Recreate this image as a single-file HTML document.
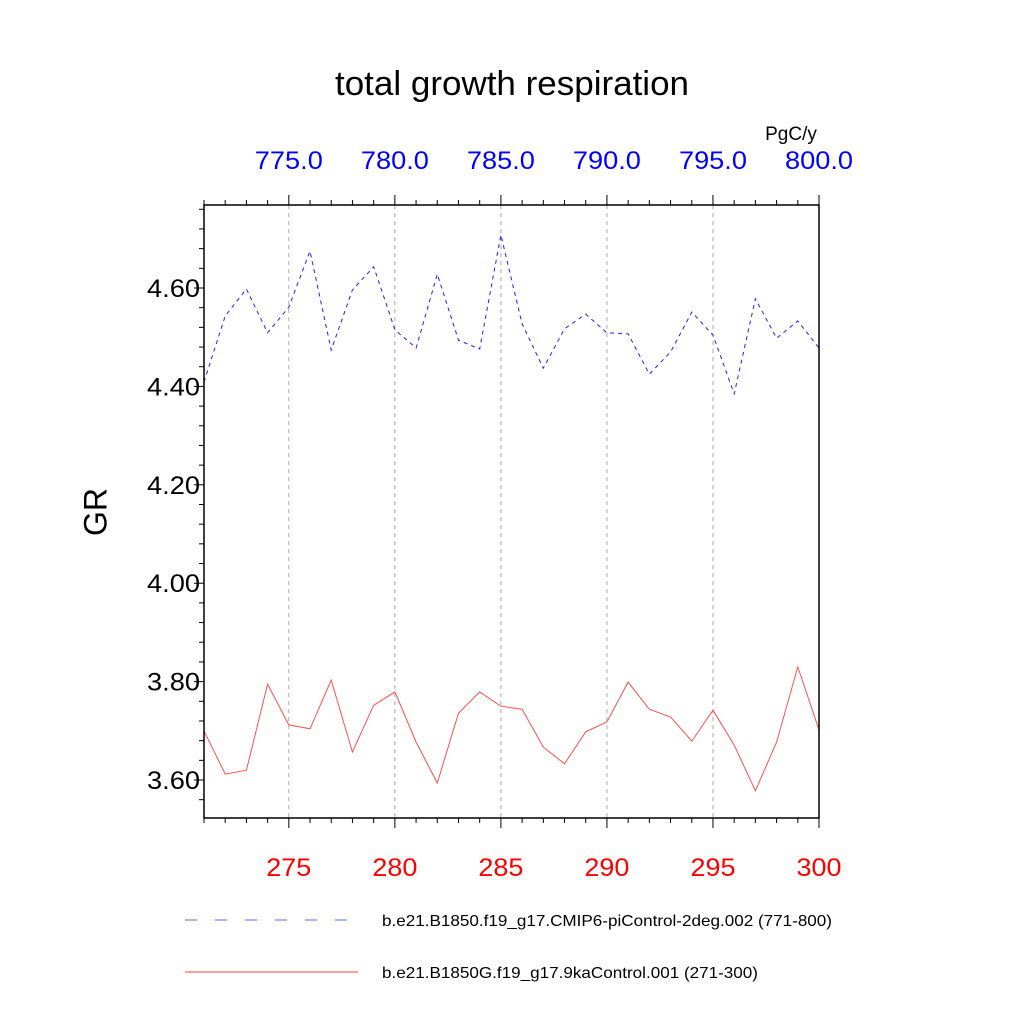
<!DOCTYPE html>
<html><head><meta charset="utf-8"><style>
html,body{margin:0;padding:0;background:#fff;}
svg{display:block;font-family:"Liberation Sans",sans-serif;}
</style></head><body>
<svg id="chart" width="1024" height="1024" viewBox="0 0 1024 1024">
<rect width="1024" height="1024" fill="#fff"/>
<text x="512" y="95" font-size="34" text-anchor="middle" textLength="354" lengthAdjust="spacingAndGlyphs">total growth respiration</text>
<text x="791" y="140" font-size="19" text-anchor="middle">PgC/y</text>
<text transform="translate(98,512) rotate(-90)" font-size="32" text-anchor="middle" dominant-baseline="middle">GR</text>
<g id="grid"></g>
<g id="series"></g>
<g id="axes"></g>
<g>
<line x1="185" y1="920" x2="355" y2="920" stroke="#8080ff" stroke-width="1.2" stroke-dasharray="12,18"/>
<text x="382" y="926" font-size="16" textLength="450" lengthAdjust="spacingAndGlyphs">b.e21.B1850.f19_g17.CMIP6-piControl-2deg.002 (771-800)</text>
<line x1="185" y1="972" x2="358" y2="972" stroke="#ff6060" stroke-width="1.2"/>
<text x="382" y="978" font-size="16" textLength="376" lengthAdjust="spacingAndGlyphs">b.e21.B1850G.f19_g17.9kaControl.001 (271-300)</text>
</g>
</svg>
<script>
const years = [271,272,273,274,275,276,277,278,279,280,281,282,283,284,285,286,287,288,289,290,291,292,293,294,295,296,297,298,299,300];
const blueValues = [4.409,4.543,4.598,4.509,4.561,4.675,4.474,4.596,4.643,4.515,4.478,4.628,4.494,4.476,4.708,4.527,4.437,4.517,4.547,4.509,4.507,4.425,4.470,4.551,4.504,4.385,4.578,4.498,4.533,4.478];
const redValues = [3.700,3.612,3.620,3.795,3.712,3.704,3.803,3.657,3.752,3.779,3.677,3.594,3.736,3.779,3.750,3.744,3.667,3.633,3.698,3.718,3.799,3.744,3.728,3.679,3.742,3.671,3.578,3.677,3.830,3.702];
const yTicks = [3.6,3.8,4.0,4.2,4.4,4.6];
const yTickLabels = ["3.60","3.80","4.00","4.20","4.40","4.60"];
const xTicks = [275,280,285,290,295,300];
const xTickLabels = ["275","280","285","290","295","300"];
const topTickLabels = ["775.0","780.0","785.0","790.0","795.0","800.0"];

const L=204,R=819,T=205,B=818;
const xMin=271,xMax=300,yMin=3.5228,yMax=4.7687;
const xs=v=>L+(v-xMin)/(xMax-xMin)*(R-L);
const ys=v=>B-(v-yMin)/(yMax-yMin)*(B-T);
const NS="http://www.w3.org/2000/svg";
function mk(tag,attrs,parent){const e=document.createElementNS(NS,tag);for(const k in attrs)e.setAttribute(k,attrs[k]);parent.appendChild(e);return e;}
const grid=document.getElementById('grid'),series=document.getElementById('series'),axes=document.getElementById('axes');

xTicks.forEach(t=>{if(t<xMax){const g=mk('line',{x1:xs(t),x2:xs(t),y1:T,y2:B,stroke:'#aaa','stroke-width':1,'stroke-dasharray':'4,4'},grid);

}});

function path(vals,color,dash,name){
 const d=vals.map((v,i)=>(i?'L':'M')+xs(years[i]).toFixed(1)+','+ys(v).toFixed(1)).join(' ');
 const p=mk('path',{d:d,fill:'none',stroke:color,'stroke-width':1},series);
 if(dash)p.setAttribute('stroke-dasharray',dash);
 
 
}
path(blueValues,'#2020ff','4,4','series-blue-line');
path(redValues,'#ff5050',null,'series-red-line');

const frame=mk('rect',{x:L,y:T,width:R-L,height:B-T,fill:'none',stroke:'#000','stroke-width':1.5},axes);



for(let v=3.52;v<=4.77;v+=0.04){const y=ys(v);if(y<T-0.5||y>B+0.5)continue;
 const major=yTicks.some(t=>Math.abs(t-v)<0.005);
 const tk=mk('line',{x1:L-(major?10:5),x2:L,y1:y,y2:y,stroke:'#000','stroke-width':1},axes);
 
 }
yTicks.forEach((t,i)=>{const tx=mk('text',{x:L-4,y:ys(t)+9,'font-size':25,'text-anchor':'end',textLength:53,lengthAdjust:'spacingAndGlyphs'},axes);tx.textContent=yTickLabels[i];
 
 });

for(let yr=xMin;yr<=xMax;yr++){const x=xs(yr);const major=xTicks.includes(yr);
 const b=mk('line',{x1:x,x2:x,y1:B,y2:B+(major?10:5),stroke:'#000','stroke-width':1},axes);
 
 
 const t=mk('line',{x1:x,x2:x,y1:T,y2:T-(major?10:5),stroke:'#000','stroke-width':1},axes);
 
 }
xTicks.forEach((t,i)=>{const tx=mk('text',{x:xs(t),y:876,'font-size':25,'text-anchor':'middle',fill:'#ff0000',textLength:45,lengthAdjust:'spacingAndGlyphs'},axes);tx.textContent=xTickLabels[i];
 
 
 const tt=mk('text',{x:xs(t),y:169,'font-size':25,'text-anchor':'middle',fill:'#0000ff',textLength:68,lengthAdjust:'spacingAndGlyphs'},axes);tt.textContent=topTickLabels[i];
 
 });
</script>
</body></html>
